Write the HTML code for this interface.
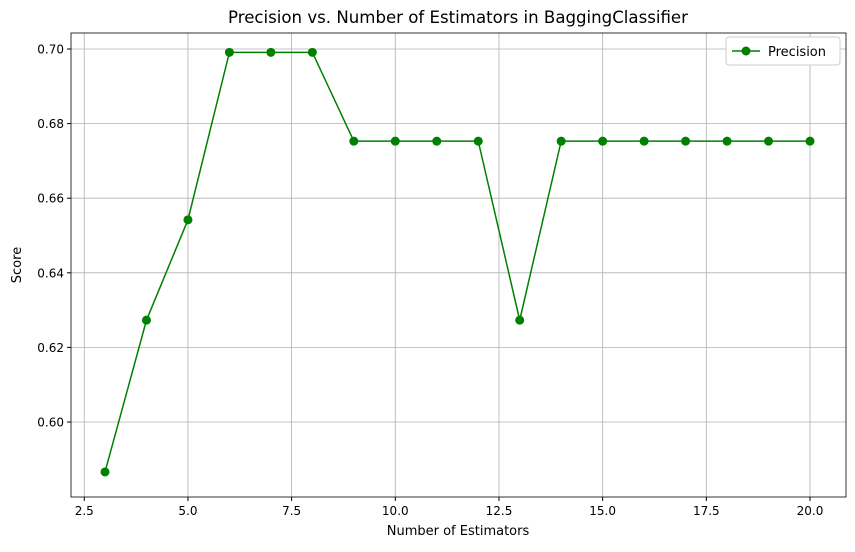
<!DOCTYPE html>
<html><head><meta charset="utf-8"><style>
body{margin:0;background:#fff}
text{font-family:"DejaVu Sans","Liberation Sans",sans-serif;fill:#000}
</style></head><body>
<svg id="chart" width="855" height="547" xmlns="http://www.w3.org/2000/svg">
<rect width="855" height="547" fill="#fff"/>
<g id="grid"></g><g id="axes"></g><g id="series"></g>
<text x="458" y="23" text-anchor="middle" font-size="16.6">Precision vs. Number of Estimators in BaggingClassifier</text>
<text x="458" y="535" text-anchor="middle" font-size="13">Number of Estimators</text>
<text x="21" y="265" text-anchor="middle" font-size="13" transform="rotate(-90 21 265)">Score</text>
<g>
<rect x="726" y="37" width="114" height="28" rx="3" fill="#fff" stroke="#ccc"/>
<line x1="732" y1="51" x2="760" y2="51" stroke="#008000" stroke-width="1.5"/>
<circle cx="746" cy="51" r="4.5" fill="#008000"/>
<text x="768" y="56" font-size="13">Precision</text>
</g>
</svg>
<script>
const xs=[3,4,5,6,7,8,9,10,11,12,13,14,15,16,17,18,19,20];
const precision=[0.5866,0.6273,0.6542,0.6991,0.6991,0.6991,0.6753,0.6753,0.6753,0.6753,0.6273,0.6753,0.6753,0.6753,0.6753,0.6753,0.6753,0.6753];
const xTicks=[2.5,5.0,7.5,10.0,12.5,15.0,17.5,20.0];
const yTicks=[0.60,0.62,0.64,0.66,0.68,0.70];
const L=71,R=846,T=33,B=497;
const X=v=>105+(v-3)*(705/17);
const Y=v=>49+(0.70-v)*3730;
const ns="http://www.w3.org/2000/svg";
function mk(tag,attrs,parent){const e=document.createElementNS(ns,tag);for(const k in attrs)e.setAttribute(k,attrs[k]);parent.appendChild(e);return e;}
const grid=document.getElementById('grid'),axes=document.getElementById('axes'),series=document.getElementById('series');
xTicks.forEach(t=>{const x=X(t);
 const g=mk('line',{x1:x,x2:x,y1:T,y2:B,stroke:'#b0b0b0','stroke-width':0.8},grid);
 
 
 mk('line',{x1:x,x2:x,y1:B,y2:B+4,stroke:'#000'},axes);
 const tx=mk('text',{x:x,y:B+18,'text-anchor':'middle','font-size':12},axes);tx.textContent=t.toFixed(1);
 
 });
yTicks.forEach(t=>{const y=Y(t);
 const g=mk('line',{x1:L,x2:R,y1:y,y2:y,stroke:'#b0b0b0','stroke-width':0.8},grid);
 
 
 mk('line',{x1:L-4,x2:L,y1:y,y2:y,stroke:'#000'},axes);
 const tx=mk('text',{x:L-7,y:y+4.5,'text-anchor':'end','font-size':12},axes);tx.textContent=t.toFixed(2);
 
 });
const fr=mk('rect',{x:L,y:T,width:R-L,height:B-T,fill:'none',stroke:'#000','stroke-width':0.8},axes);


const pl=mk('polyline',{points:xs.map((x,i)=>X(x)+','+Y(precision[i])).join(' '),fill:'none',stroke:'#008000','stroke-width':1.5},series);


xs.forEach((x,i)=>{const c=mk('circle',{cx:X(x),cy:Y(precision[i]),r:4.5,fill:'#008000'},series);
 
 });
</script>
</body></html>
